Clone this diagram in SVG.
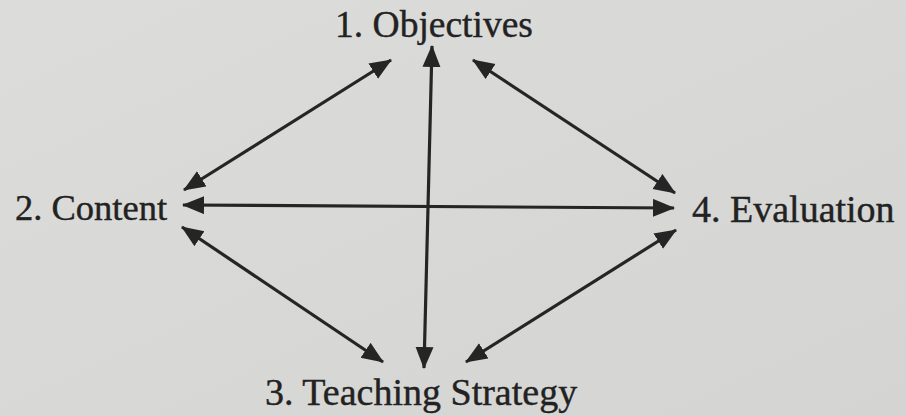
<svg xmlns="http://www.w3.org/2000/svg" width="906" height="416" viewBox="0 0 906 416">
<defs>
<style>
.lbl{font-family:"Liberation Serif","Times New Roman",serif;fill:#222;stroke:#222;stroke-width:0.4;}
.con{stroke:#252525;stroke-width:3.2;fill:none;marker-start:url(#ah);marker-end:url(#ah);}
</style>
<marker id="ah" markerUnits="userSpaceOnUse" markerWidth="24" markerHeight="20" refX="21" refY="9" orient="auto-start-reverse" viewBox="0 0 24 20">
<path d="M0,0 L22,9 L0,18 Z" fill="#252525"/>
</marker>
<linearGradient id="bg" x1="0" y1="0" x2="1" y2="1">
<stop offset="0" stop-color="#dcdcda"/>
<stop offset="0.5" stop-color="#d8d8d6"/>
<stop offset="1" stop-color="#d4d4d2"/>
</linearGradient>
</defs>
<rect width="906" height="416" fill="url(#bg)"/>
<g id="connectors">
<line class="con" x1="432" y1="46" x2="424" y2="368"/>
<line class="con" x1="183" y1="205" x2="674" y2="208"/>
<line class="con" x1="184" y1="190" x2="391" y2="60"/>
<line class="con" x1="473" y1="60" x2="675" y2="193"/>
<line class="con" x1="182" y1="227" x2="383" y2="362"/>
<line class="con" x1="466" y1="362" x2="676" y2="230"/>
</g>
<g id="node-objectives"><text class="lbl" x="434" y="37" font-size="37.5" text-anchor="middle">1. Objectives</text></g>
<g id="node-content"><text class="lbl" x="15" y="220" font-size="36.5">2. Content</text></g>
<g id="node-evaluation"><text class="lbl" x="692" y="222" font-size="38">4. Evaluation</text></g>
<g id="node-strategy"><text class="lbl" x="265" y="405" font-size="38">3. Teaching Strategy</text></g>
</svg>
